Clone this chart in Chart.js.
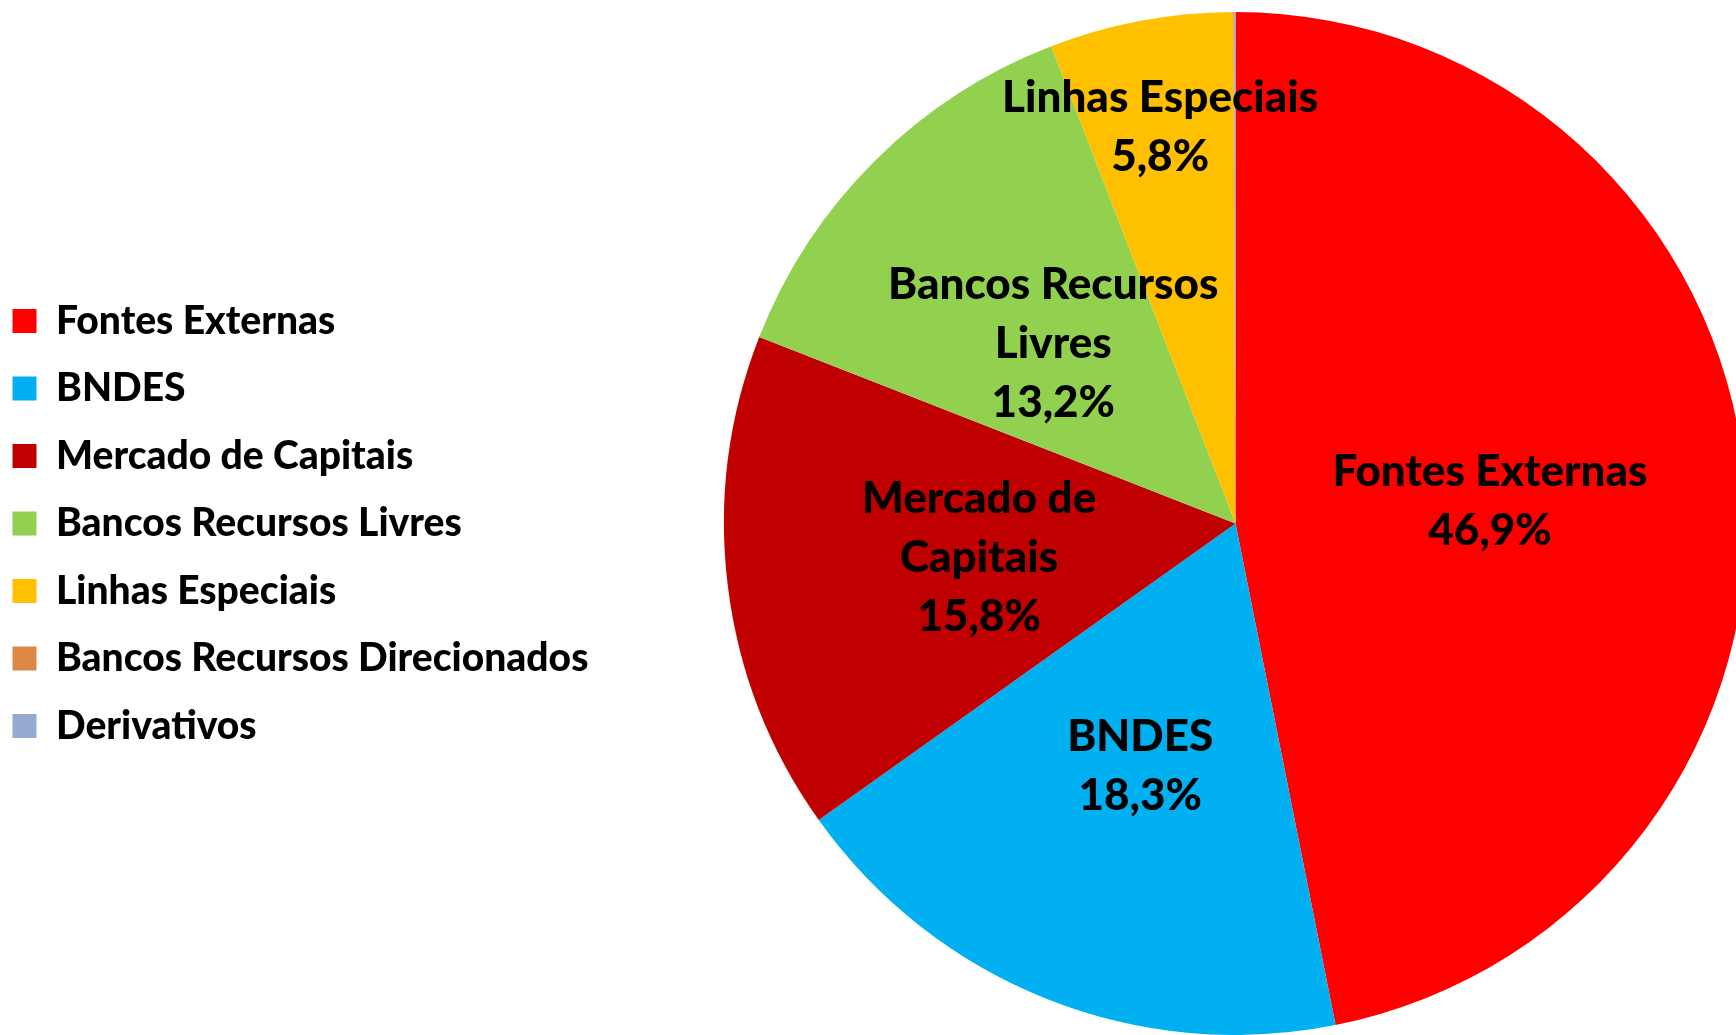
<!DOCTYPE html>
<html>
<head>
<meta charset="utf-8">
<script src="https://cdn.jsdelivr.net/npm/chart.js@4"></script>
<style>
  html, body { margin: 0; padding: 0; background: #ffffff; overflow: hidden; }
  #wrap { position: absolute; left: 0; top: 0; width: 1736px; height: 1035px; overflow: hidden; }
</style>
</head>
<body>
<div id="wrap"><canvas id="c" width="1760" height="1035"></canvas></div>
<script>
// ---- data ----
const categories = [
  'Fontes Externas',
  'BNDES',
  'Mercado de Capitais',
  'Bancos Recursos Livres',
  'Linhas Especiais',
  'Bancos Recursos Direcionados',
  'Derivativos'
];
const shares = [46.9, 18.3, 15.8, 13.2, 5.8, 0.03, 0.04];
// wrapped label text as shown inside the slices
const sliceLabelLines = [
  ['Fontes Externas'],
  ['BNDES'],
  ['Mercado de', 'Capitais'],
  ['Bancos Recursos', 'Livres'],
  ['Linhas Especiais'],
  [],
  []
];
const colors = ['#FF0000', '#00B0F0', '#C00000', '#92D050', '#FFC000', '#DD8844', '#95A9D1'];

// ---- styles ----
const labelRadial = [0.5, 0.505, 0.505, 0.505, 0.795, 0.5, 0.5];
const labelFont = '900 44px Lato';
const labelLineHeight = 59;
const labelDy = 3;

const sliceLabels = {
  id: 'sliceLabels',
  afterDatasetsDraw(chart) {
    const ctx = chart.ctx;
    const meta = chart.getDatasetMeta(0);
    const values = chart.data.datasets[0].data;
    ctx.save();
    ctx.font = labelFont;
    ctx.fillStyle = '#000000';
    ctx.textAlign = 'center';
    ctx.textBaseline = 'middle';
    meta.data.forEach((arc, i) => {
      if (values[i] < 1) return;
      const p = arc.getProps(['x', 'y', 'startAngle', 'endAngle', 'outerRadius'], true);
      const mid = (p.startAngle + p.endAngle) / 2;
      const r = p.outerRadius * labelRadial[i];
      const cx = p.x + Math.cos(mid) * r;
      const cy = p.y + Math.sin(mid) * r + labelDy;
      const lines = sliceLabelLines[i].concat([values[i].toFixed(1).replace('.', ',') + '%']);
      const y0 = cy - (lines.length - 1) * labelLineHeight / 2;
      lines.forEach((t, k) => ctx.fillText(t, cx, y0 + k * labelLineHeight));
    });
    ctx.restore();
  }
};

const legendSpace = {
  id: 'legendSpace',
  beforeInit(chart) {
    const origFit = chart.legend.fit;
    chart.legend.fit = function () {
      origFit.bind(chart.legend)();
      this.width = 740;
    };
  }
};

new Chart(document.getElementById('c'), {
  type: 'pie',
  data: {
    labels: categories,
    datasets: [{
      data: shares,
      backgroundColor: colors,
      borderWidth: 0,
      hoverOffset: 0
    }]
  },
  options: {
    responsive: false,
    animation: false,
    layout: { padding: { left: -16, top: 12, right: 13, bottom: 0 } },
    plugins: {
      legend: {
        position: 'left',
        align: 'center',
        labels: {
          boxWidth: 24,
          boxHeight: 24,
          padding: 28.5,
          color: '#000000',
          font: { family: 'Lato', size: 39, weight: '900' }
        }
      },
      tooltip: { enabled: false }
    }
  },
  plugins: [sliceLabels, legendSpace]
});
</script>
</body>
</html>
